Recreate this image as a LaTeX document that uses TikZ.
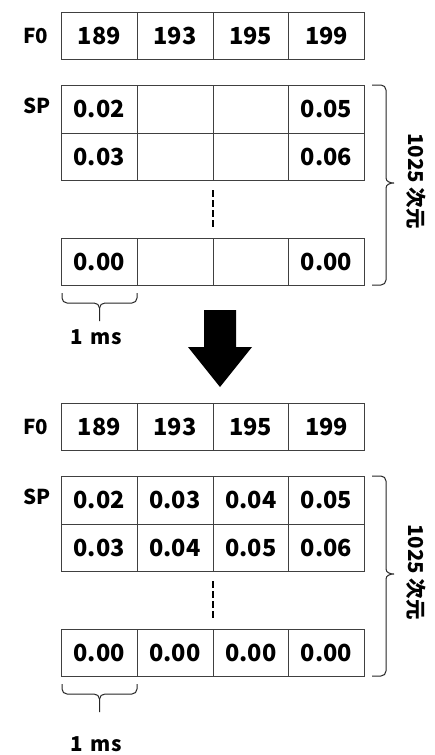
\documentclass[tikz,border=0pt]{standalone}
\usepackage{fontspec}
\setmainfont{Noto Sans CJK JP}
\usetikzlibrary{calc}

\tikzset{
  cell/.style={draw=black!75, line width=0.8pt, minimum width=75.75pt,
    minimum height=47pt, inner sep=0pt, anchor=north west,
    font=\fontsize{23.5}{28}\selectfont\bfseries},
  rowlabel/.style={font=\fontsize{20.5}{24}\selectfont\bfseries, inner sep=0pt},
  bracket/.style={line width=1pt, black!85},
  dots/.style={line width=2pt, dash pattern=on 7pt off 3pt},
}

% one F0/SP block: #1 name prefix, #2 vertical offset,
% #3 first SP row, #4 second SP row, #5 last SP row, #6 offset of the "1 ms" text
\newcommand{\datablock}[6]{%
  \node[rowlabel] (#1-f0) at (35.5,{#2+36}) {F0};
  \node[rowlabel] (#1-sp) at (37,{#2+106}) {SP};
  \foreach \v [count=\i] in {189,193,195,199}
    \node[cell] (#1-f-\i) at ({61+75.75*(\i-1)},{#2+12}) {\v};
  \foreach \v [count=\i] in {#3}
    \node[cell, minimum height=48pt] (#1-a-\i) at ({61+75.75*(\i-1)},{#2+85}) {\v};
  \foreach \v [count=\i] in {#4}
    \node[cell] (#1-b-\i) at ({61+75.75*(\i-1)},{#2+133}) {\v};
  \foreach \v [count=\i] in {#5}
    \node[cell] (#1-c-\i) at ({61+75.75*(\i-1)},{#2+238}) {\v};
  % elided rows
  \coordinate (#1-d1) at (212.5,{#2+190});
  \coordinate (#1-d2) at (212.5,{#2+228});
  \draw[dots] (#1-d1) -- (#1-d2);
  % brace over the 1025 spectral rows
  \draw[bracket] (372,{#2+85}) -- (381,{#2+85}) to[out=0,in=90] (386,{#2+90})
    -- (386,{#2+178}) to[out=-90,in=180] (394,{#2+183})
    to[out=180,in=90] (386,{#2+188}) -- (386,{#2+280})
    to[out=-90,in=0] (381,{#2+285}) -- (372,{#2+285});
  \node[rotate=-90, rowlabel] (#1-dim) at (416,{#2+181}) {1025 次元};
  % brace under one frame
  \draw[bracket] (62,{#2+293}) -- (62,{#2+298}) to[out=-90,in=180] (67,{#2+303})
    -- (94,{#2+303}) to[out=0,in=90] (99.5,{#2+308}) -- (99.5,{#2+321});
  \draw[bracket] (99.5,{#2+308}) to[out=90,in=180] (105,{#2+303})
    -- (132,{#2+303}) to[out=0,in=-90] (137,{#2+298}) -- (137,{#2+293});
  \node[rowlabel] (#1-ms) at (96,{#2+#6}) {1\hspace{0.4em}ms};
}

\begin{document}
\begin{tikzpicture}[x=1pt, y=-1pt]
\useasboundingbox (0,0) rectangle (434,755);
\fill[white] (0,0) rectangle (434,755);

\datablock{top}{0}{0.02,{},{},0.05}{0.03,{},{},0.06}{0.00,{},{},0.00}{337}

% block arrow between the two stages
\fill[black] (204,310) -- (236,310) -- (236,347) -- (252,347) -- (220,387)
  -- (188,347) -- (204,347) -- cycle;

\datablock{bot}{391}{0.02,0.03,0.04,0.05}{0.03,0.04,0.05,0.06}{0.00,0.00,0.00,0.00}{353}
\end{tikzpicture}
\end{document}
